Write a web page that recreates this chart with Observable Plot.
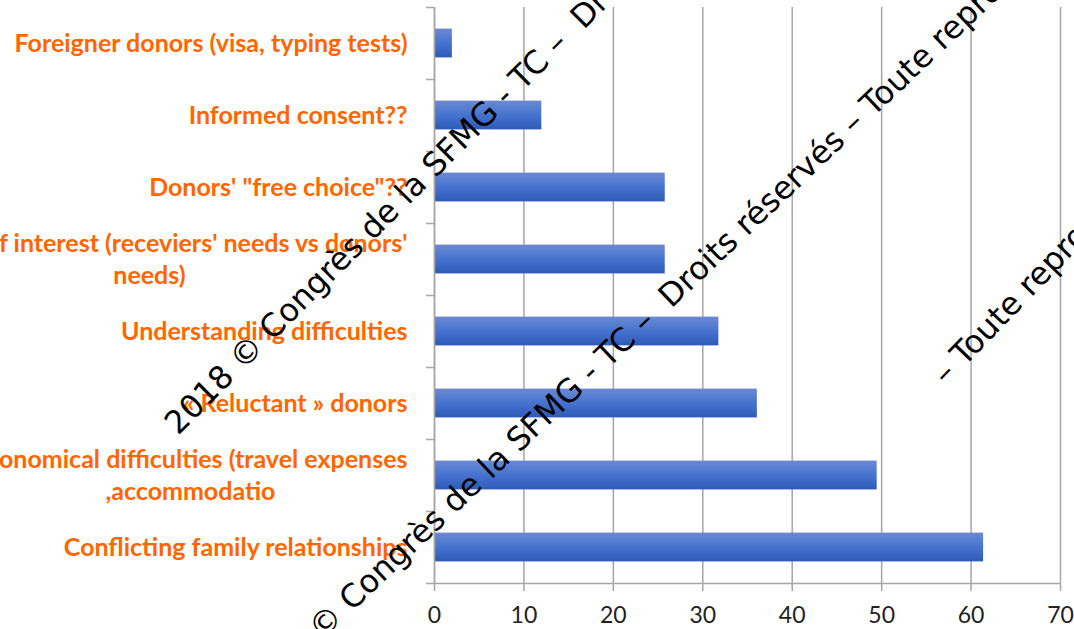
<!DOCTYPE html>
<html>
<head>
<meta charset="utf-8">
<script src="https://cdn.jsdelivr.net/npm/d3@7"></script>
<script src="https://cdn.jsdelivr.net/npm/@observablehq/plot@0.6"></script>
<style>
  html, body { margin: 0; padding: 0; background: white; overflow: hidden; }
  #wrap { position: relative; width: 1074px; height: 629px; }
  #wm { position: absolute; left: 0; top: 0; pointer-events: none; }
  #wm text { font-family: "DejaVu Sans", sans-serif; font-size: 32px; fill: #000; white-space: pre; }
</style>
</head>
<body>
<div id="wrap"></div>
<script>
// ---- data ----
const categories = [
  "Foreigner donors (visa, typing tests)",
  "Informed consent??",
  "Donors' \"free choice\"??",
  "Conflict of interest (receviers' needs vs donors'\nneeds)",
  "Understanding difficulties",
  "« Reluctant » donors",
  "Economical difficulties (travel expenses\n,accommodatio",
  "Conflicting family relationships"
];
const values = [2, 12, 25.8, 25.8, 31.8, 36.1, 49.5, 61.4];
const xTicks = [0, 10, 20, 30, 40, 50, 60, 70];
const watermarkText = "2018 © Congrès de la SFMG - TC –  Droits réservés – Toute reproduction interdite";
const watermarkTail = "– Toute reproduction interdite";

// ---- build ----
const data = categories.map((label, i) => ({label, value: values[i], i}));
const n = categories.length;
const grid = "#a6a6a6";
const orange = "#ff6600";

const defs = () => {
  const d = d3.create("svg:defs");
  const g = d.append("linearGradient").attr("id", "barGrad")
    .attr("x1", 0).attr("y1", 0).attr("x2", 0).attr("y2", 1);
  g.append("stop").attr("offset", "0%").attr("stop-color", "#6a8ad3");
  g.append("stop").attr("offset", "50%").attr("stop-color", "#4673cf");
  g.append("stop").attr("offset", "100%").attr("stop-color", "#2d5bb7");
  return d.node();
};

const chart = Plot.plot({
  width: 1074,
  height: 629,
  marginLeft: 434,
  marginRight: 14,
  marginTop: 7,
  marginBottom: 46,
  style: {fontFamily: "Lato, 'Open Sans', sans-serif", background: "white", overflow: "visible"},
  x: {domain: [0, 70]},
  y: {domain: [-0.5, n - 0.5], reverse: true},
  marks: [
    defs,
    Plot.gridX(xTicks, {stroke: grid, strokeOpacity: 1, strokeWidth: 1.5}),
    Plot.rectX(data, {x1: 0, x2: "value", y1: d => d.i - 0.2, y2: d => d.i + 0.2, fill: "url(#barGrad)"}),
    Plot.ruleX([0], {stroke: grid, strokeWidth: 1.5}),
    Plot.ruleY([n - 0.5], {stroke: grid, strokeWidth: 1.5}),
    Plot.axisX(xTicks, {tickSize: 8, tickPadding: 15, fontSize: 23, stroke: grid, strokeWidth: 1.5, fill: "#222", label: null}),
    Plot.axisY(d3.range(n + 1).map(k => k - 0.5), {tickSize: 8, tickFormat: () => "", stroke: grid, strokeWidth: 1.5, label: null}),
    Plot.axisY(d3.range(n), {
      tickSize: 0, tickPadding: 27, tickFormat: i => categories[i], dy: -2,
      fill: orange, fontWeight: "bold", fontSize: 25, lineHeight: 1.28, label: null
    })
  ]
});

const wrap = document.getElementById("wrap");
wrap.append(chart);

// center the lines of multi-line category labels within their block
chart.querySelectorAll("text").forEach(t => {
  const spans = t.querySelectorAll("tspan");
  if (spans.length > 1) {
    const w = d3.max(Array.from(spans), s => s.getComputedTextLength());
    t.setAttribute("text-anchor", "middle");
    spans.forEach(s => s.setAttribute("x", -w / 2));
  }
});

// diagonal watermark overlay (text)
const wm = d3.select(wrap).append("svg").attr("id", "wm").attr("width", 1074).attr("height", 629);
wm.append("text").attr("transform", "translate(178,436) rotate(-45)").text(watermarkText);
wm.append("text").attr("transform", "translate(255,704) rotate(-43.5)").text(watermarkText);
wm.append("text").attr("transform", "translate(946,386) rotate(-46)").text(watermarkTail);
</script>
</body>
</html>
